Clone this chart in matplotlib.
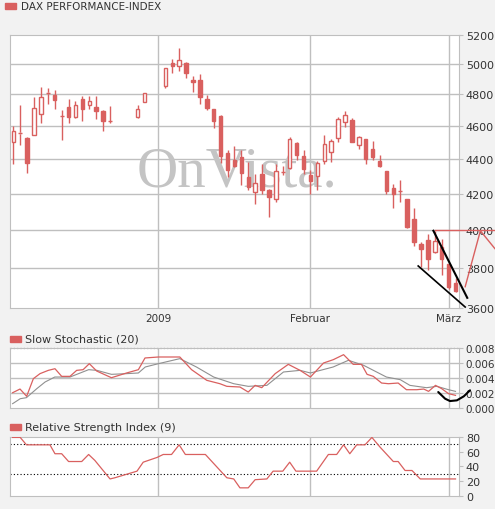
import matplotlib
matplotlib.use("Agg")
import matplotlib.pyplot as plt
from matplotlib.ticker import FixedLocator, NullLocator, FixedFormatter

# ---------------- data ----------------
slots = list(range(0, 15)) + [18, 19] + list(range(22, 65))
opens = [4505, 4554, 4527, 4547, 4673, 4802, 4794, 4662, 4720, 4658, 4774, 4731, 4720, 4697, 4630,
         4658, 4750,
         4854, 5007, 4989, 5007, 4897, 4897, 4768, 4710, 4665, 4436, 4396, 4412, 4297,
         4210, 4314, 4219, 4167, 4324, 4347, 4499, 4416, 4305, 4299, 4387, 4440, 4525, 4624, 4639,
         4487, 4521, 4461, 4387, 4331, 4232, 4213, 4169, 4061, 3923, 3944, 3882, 3909, 3819, 3725]
closes = [4568, 4562, 4377, 4716, 4781, 4813, 4763, 4662, 4654, 4735, 4705, 4761, 4692, 4634, 4630,
          4710, 4811,
          4972, 4985, 5025, 4938, 4880, 4781, 4716, 4632, 4420, 4333, 4362, 4318, 4236,
          4261, 4219, 4181, 4328, 4324, 4521, 4426, 4339, 4270, 4375, 4491, 4507, 4645, 4667, 4505,
          4531, 4400, 4410, 4360, 4213, 4200, 4213, 4015, 3935, 3897, 3844, 3940, 3844, 3703, 3683]
highs = [4598, 4735, 4535, 4781, 4849, 4843, 4826, 4703, 4774, 4761, 4787, 4787, 4787, 4703, 4723,
         4735, 4811,
         4972, 5034, 5110, 5013, 4923, 4935, 4794, 4710, 4671, 4455, 4479, 4455, 4385,
         4310, 4371, 4225, 4371, 4358, 4535, 4505, 4457, 4333, 4389, 4545, 4521, 4656, 4692, 4649,
         4541, 4521, 4509, 4424, 4331, 4257, 4278, 4169, 4117, 3935, 3979, 3993, 3953, 3821, 3748]
lows = [4371, 4485, 4320, 4547, 4619, 4742, 4710, 4517, 4619, 4649, 4632, 4710, 4645, 4570, 4619,
        4651, 4750,
        4843, 4944, 4955, 4910, 4819, 4742, 4703, 4588, 4379, 4293, 4356, 4248, 4219,
        4141, 4196, 4070, 4154, 4305, 4343, 4396, 4310, 4200, 4223, 4368, 4385, 4505, 4592, 4505,
        4461, 4368, 4394, 4356, 4196, 4122, 4154, 4011, 3912, 3804, 3787, 3879, 3762, 3695, 3678]

overlay_x = [65.4, 67.6, 69.7]
overlay_y = [3705, 3995, 3900]
hline_x = [61, 69.7]
hline_y = 4000
trend1_x = [60.8, 65.7]; trend1_y = [3995, 3650]
trend2_x = [58.6, 65.4]; trend2_y = [3810, 3605]

price_ticks = [3600, 3800, 4000, 4200, 4400, 4600, 4800, 5000, 5200]
month_pos = [21, 43, 63]
month_labels = ["2009", "Februar", "März"]

stoch_k_x = [-0.1, 0.97, 1.93, 2.9, 3.86, 5.07, 6.03, 7.0, 8.2, 9.17, 10.1, 11.0, 12.07, 14.2, 16.4,
             18.1, 19.06, 21, 24.1, 25.8, 28, 29.9, 30.9, 32.8, 34, 35, 35.96, 37.9, 39.8, 41.5, 43,
             44.9, 46.3, 47.8, 49.2, 50.4, 51.2, 52.1, 53.3, 54.3, 55.7, 56.9, 58.4, 59.4, 60.1,
             61.1, 62, 63, 64]
stoch_k = [0.00204, 0.00253, 0.00156, 0.00391, 0.00458, 0.00502, 0.00524, 0.00422, 0.00422, 0.00502,
           0.00511, 0.00591, 0.00493, 0.00404, 0.00467, 0.00511, 0.00667, 0.0068, 0.0068, 0.00511,
           0.00369, 0.00324, 0.00289, 0.0028, 0.00213, 0.00302, 0.00271, 0.00458, 0.00582, 0.00502,
           0.00413, 0.006, 0.00644, 0.00711, 0.00582, 0.00582, 0.00449, 0.00422, 0.00333, 0.00324,
           0.00333, 0.00244, 0.00244, 0.00253, 0.00222, 0.00302, 0.00258, 0.00191, 0.00169]
stoch_d_x = [-0.1, 1, 1.9, 3.4, 4.6, 6, 8.2, 10.9, 12.1, 14.2, 16.4, 18.1, 19.1, 21, 24.1, 26.5, 29,
             31.9, 34, 36.7, 39.1, 41.5, 43, 46.3, 48.5, 50.7, 54, 56, 57.4, 59.8, 61.3, 63, 64]
stoch_d = [0.00058, 0.00124, 0.00138, 0.00258, 0.00347, 0.00413, 0.00413, 0.00511, 0.00502, 0.00449,
           0.00458, 0.00467, 0.00547, 0.00591, 0.00658, 0.00547, 0.00413, 0.00324, 0.00289, 0.00302,
           0.0048, 0.00502, 0.00467, 0.00547, 0.00636, 0.00569, 0.00413, 0.00378, 0.00302, 0.00271,
           0.00289, 0.00244, 0.00222]
arc_x = [61.5, 62.5, 63.2, 64.2, 65.2, 66.1]
arc_y = [0.00213, 0.00124, 0.00093, 0.00102, 0.00156, 0.00236]
stoch_ticks = [0.0, 0.002, 0.004, 0.006, 0.008]

rsi_x = [-0.1, 1.0, 1.9, 5.3, 6.03, 7.0, 8.0, 9.9, 10.9, 11.8, 14, 14.7, 17.9, 18.8, 20.8, 21.7, 22.9,
         24.0, 24.9, 27.8, 30.9, 31.9, 32.8, 34.0, 35.0, 36.7, 37.6, 39.0, 40.0, 40.9, 43.9, 45.6,
         46.8, 47.8, 48.7, 49.7, 50.9, 51.9, 53.1, 55.0, 55.7, 56.7, 57.7, 58.9, 64.0]
rsi = [79, 79, 69, 69, 57, 57, 46.5, 46.5, 56, 48, 23, 24.6, 33.5, 45.6, 52, 56, 56, 69, 56, 56,
       24.6, 23, 11, 11, 22, 23, 33.5, 33.5, 45.6, 33.5, 33.5, 56, 56, 69, 57, 69, 69, 79, 65.7,
       46.5, 46.5, 34.4, 34.4, 23, 23]
rsi_ticks = [0, 20, 40, 60, 80]

# ---------------- style ----------------
RED = "#d9605f"
GRID = "#bfbfbf"
BG = "#f2f2f2"
TXT = "#333333"
XL = (-0.48, 64.5)

fig = plt.figure(figsize=(4.95, 5.10), dpi=100, facecolor=BG)
ax = fig.add_axes([0.0202, 0.394, 0.907, 0.5353])
ax1 = fig.add_axes([0.0202, 0.198, 0.907, 0.1177])
ax2 = fig.add_axes([0.0202, 0.0255, 0.907, 0.1163])

for a in (ax, ax1, ax2):
    a.set_facecolor("white")
    a.set_xlim(*XL)
    for s in a.spines.values():
        s.set_color(GRID)
    a.yaxis.tick_right()
    a.tick_params(axis="y", labelsize=8, colors=TXT, length=3, color=GRID, pad=2)
    a.tick_params(axis="x", length=0)
    for p in month_pos:
        a.axvline(p, color=GRID, lw=1, zorder=0)
    a.set_xticks([])

# main
ax.set_yscale("log")
ax.set_ylim(3600, 5200)
ax.yaxis.set_major_locator(FixedLocator(price_ticks))
ax.yaxis.set_major_formatter(FixedFormatter([str(t) for t in price_ticks]))
ax.yaxis.set_minor_locator(NullLocator())
for t in price_ticks[1:-1]:
    ax.axhline(t, color=GRID, lw=1, zorder=0)
ax.text(0.505, 0.50, "OnVista.", transform=ax.transAxes, fontsize=41, family="Liberation Serif",
        color="#c4c4c4", ha="center", va="center", zorder=1)
for x, o, c, h, l in zip(slots, opens, closes, highs, lows):
    top, bot = max(o, c), min(o, c)
    ax.vlines(x, top, h, color=RED, lw=1, zorder=3)
    ax.vlines(x, l, bot, color=RED, lw=1, zorder=3)
    if abs(o - c) < 12:
        ax.hlines((o + c) / 2, x - 0.3, x + 0.3, color=RED, lw=1, zorder=3)
        ax.vlines(x, bot, top, color=RED, lw=1, zorder=3)
    elif c > o:
        ax.bar(x, top - bot, bottom=bot, width=0.5, facecolor="white", edgecolor=RED, lw=1, zorder=3)
    else:
        ax.bar(x, top - bot, bottom=bot, width=0.5, facecolor=RED, edgecolor=RED, lw=1, zorder=3)
ax.plot(hline_x, [hline_y, hline_y], color=RED, lw=1, clip_on=False, zorder=4)
ax.plot(overlay_x, overlay_y, color=RED, lw=1, clip_on=False, zorder=4)
ax.plot(trend1_x, trend1_y, color="black", lw=1.5, clip_on=False, zorder=5)
ax.plot(trend2_x, trend2_y, color="black", lw=1.2, clip_on=False, zorder=5)
for p, lab in zip(month_pos, month_labels):
    ax.text(p, -0.035, lab, transform=ax.get_xaxis_transform(), ha="center", va="center",
            fontsize=7.5, color=TXT)

# stochastic
ax1.set_ylim(0, 0.008)
ax1.set_yticks(stoch_ticks)
ax1.set_yticklabels(["%.3f" % t for t in stoch_ticks])
ax1.tick_params(axis="y", labelsize=7.5, pad=1.5)
for t in stoch_ticks[1:-1]:
    ax1.axhline(t, color=GRID, lw=1, zorder=0)
ax1.axhline(0.008, color="black", lw=0.8, ls=(0, (1, 2)), zorder=1, clip_on=False)
ax1.plot(stoch_d_x, stoch_d, color="#909090", lw=0.8, zorder=2)
ax1.plot(stoch_k_x, stoch_k, color=RED, lw=0.9, zorder=3)
ax1.plot(arc_x, arc_y, color="black", lw=1.5, clip_on=False, zorder=4, solid_capstyle="round")

# rsi
ax2.set_ylim(0, 80)
ax2.set_yticks(rsi_ticks)
ax2.axhline(70, color="black", lw=0.8, ls=(0, (1, 2)), zorder=1)
ax2.axhline(30, color="black", lw=0.8, ls=(0, (1, 2)), zorder=1)
ax2.plot(rsi_x, rsi, color=RED, lw=0.9, zorder=3)

# titles with legend squares
def title(y, text):
    fig.patches.append(matplotlib.patches.Rectangle((10 / 495, 1 - (y + 3) / 510), 11 / 495, 6 / 510,
                                                    transform=fig.transFigure, color=RED))
    fig.text(25 / 495, 1 - y / 510, text, fontsize=8, color=TXT, va="center", ha="left")

fig.patches.append(matplotlib.patches.Rectangle((5 / 495, 1 - 10 / 510), 11 / 495, 6 / 510,
                                                transform=fig.transFigure, color=RED))
fig.text(21 / 495, 1 - 7 / 510, "DAX PERFORMANCE-INDEX", fontsize=7.5, color=TXT, va="center")
title(340, "Slow Stochastic (20)")
title(428, "Relative Strength Index (9)")

fig.savefig("out.png", dpi=100, facecolor=BG)
